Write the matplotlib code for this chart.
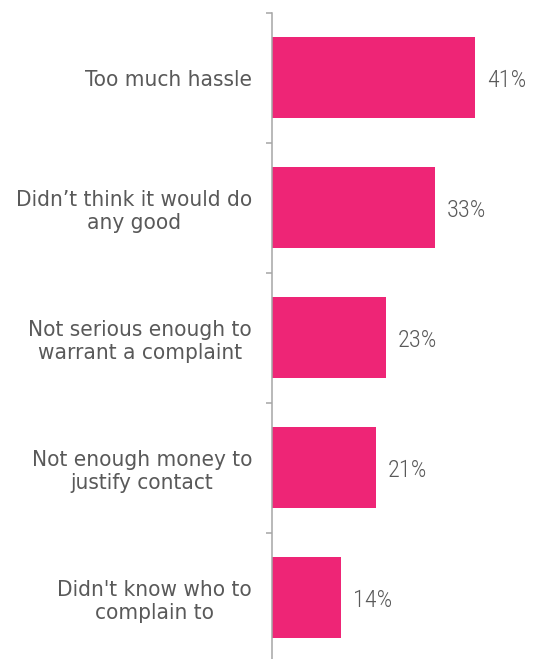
import matplotlib
matplotlib.use("Agg")
import matplotlib.pyplot as plt
import numpy as np

categories = [
    "Too much hassle",
    "Didn\u2019t think it would do\nany good",
    "Not serious enough to\nwarrant a complaint",
    "Not enough money to\njustify contact",
    "Didn't know who to\ncomplain to",
]
values = [41, 33, 23, 21, 14]
value_labels = ["41%", "33%", "23%", "21%", "14%"]

BAR = "#EE2576"
TXT = "#595959"
AX = "#A6A6A6"

fig = plt.figure(figsize=(5.33, 6.59), dpi=100)
ax = fig.add_axes([272 / 533, -3.5 / 659, 1 - 272 / 533, 650 / 659])

y = np.arange(len(categories))
ax.barh(y, values, height=0.62, color=BAR, edgecolor="none")
ax.set_ylim(len(categories) - 0.5, -0.5)
ax.set_xlim(0, 261 / 4.95)

for yi, v, lab in zip(y, values, value_labels):
    ax.text(v + 2.4, yi + 0.02, lab, ha="left", va="center", fontsize=17.5,
            fontweight=300, color=TXT, family=["Roboto Condensed", "DejaVu Sans"])

ax.set_yticks(y)
ax.set_yticklabels(categories, fontsize=16.1, color=TXT, family="DejaVu Sans",
                   fontstretch="condensed", linespacing=1.2)
for lbl in ax.get_yticklabels():
    lbl.set_multialignment("center")
ax.tick_params(axis="y", which="major", length=0, pad=14.4)
ax.set_yticks(np.arange(-0.5, len(categories) + 0.5, 1), minor=True)
ax.tick_params(axis="y", which="minor", length=4.3, width=1.1, color=AX)
ax.set_xticks([])

for s in ["top", "right", "bottom"]:
    ax.spines[s].set_visible(False)
ax.spines["left"].set_color(AX)
ax.spines["left"].set_linewidth(1.1)

fig.savefig("out.png", dpi=100)
